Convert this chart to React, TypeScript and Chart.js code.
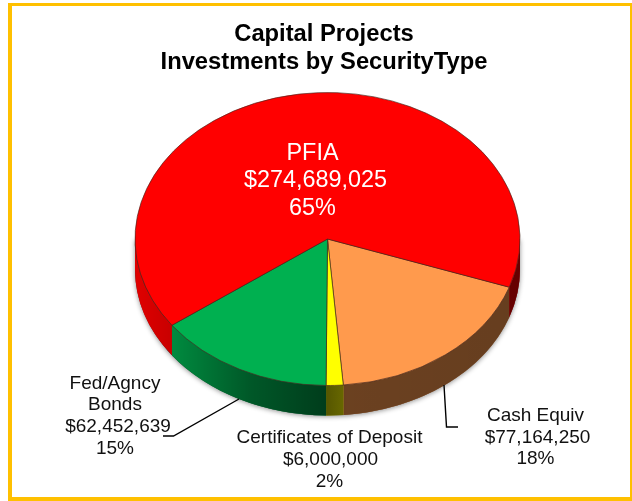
import React, { useEffect, useRef } from "react";
import { Chart, registerables } from "chart.js";

Chart.register(...registerables);

const categories = ["Cash Equiv", "Certificates of Deposit", "Fed/Agncy Bonds", "PFIA"];
const labelLines = [["Cash Equiv"], ["Certificates of Deposit"], ["Fed/Agncy", "Bonds"], ["PFIA"]];
const seriesValues = [77164250, 6000000, 62452639, 274689025];
const percentLabels = ["18%", "2%", "15%", "65%"];
const sliceColors = ["#FF9A4D", "#FFFF00", "#00B050", "#FF0000"];
const titleLines = ["Capital Projects", "Investments by SecurityType"];

const FONT = '"Liberation Sans", Arial, sans-serif';
const FRAME = "#FFC000";
const CX = 327.5;
const CY = 239;
const RX = 192.5;
const RY = 146.5;
const DEPTH = 30;

// per-slice label placement: centre x, first line y, font size, line height, colour, value-line nudge
const labelPlacement = [
  { x: 535.5, y: 415.5, size: 19, lh: 21.8, color: "#111", valueDx: 2 },
  { x: 329.5, y: 437.5, size: 19, lh: 22, color: "#111", valueDx: 1 },
  { x: 115, y: 383.5, size: 19, lh: 21.7, color: "#111", valueDx: 3 },
  { x: 312.5, y: 153.5, size: 23.4, lh: 27.5, color: "#fff", valueDx: 3 },
];

const shapes3d = {
  id: "shapes3d",
  beforeDraw(chart: any) {
    const { ctx, width, height } = chart;
    ctx.save();
    ctx.fillStyle = "#fff";
    ctx.fillRect(0, 0, width, height);
    ctx.fillStyle = FRAME;
    ctx.fillRect(8, 3, width - 8, 3);
    ctx.fillRect(8, 497, width - 8, 4);
    ctx.fillRect(8, 3, 4, height - 3);
    ctx.fillRect(630, 3, 2, height - 3);
    ctx.restore();
  },
  beforeDatasetsDraw(chart: any) {
    const { ctx } = chart;
    const arcs = chart.getDatasetMeta(0).data;
    ctx.save();
    // soft shadow beneath the disc
    ctx.save();
    ctx.shadowColor = "rgba(0,0,0,0.45)";
    ctx.shadowBlur = 5;
    ctx.shadowOffsetY = 1;
    ctx.fillStyle = "#333";
    ctx.beginPath();
    ctx.ellipse(CX, CY + DEPTH, RX, RY, 0, 0, Math.PI);
    ctx.lineTo(CX - RX, CY);
    ctx.lineTo(CX + RX, CY);
    ctx.closePath();
    ctx.fill();
    ctx.restore();

    const shade = ctx.createLinearGradient(CX - RX, 0, CX + RX, 0);
    shade.addColorStop(0, "rgba(0,0,0,0.12)");
    shade.addColorStop(0.1, "rgba(0,0,0,0.22)");
    shade.addColorStop(0.3, "rgba(0,0,0,0.5)");
    shade.addColorStop(0.5, "rgba(0,0,0,0.66)");
    shade.addColorStop(0.55, "rgba(0,0,0,0.58)");
    shade.addColorStop(1, "rgba(0,0,0,0.6)");

    arcs.forEach((arc: any) => {
      for (let k = -1; k <= 1; k++) {
        const a0 = Math.max(arc.startAngle, 2 * Math.PI * k);
        const a1 = Math.min(arc.endAngle, 2 * Math.PI * k + Math.PI);
        if (a1 <= a0) continue;
        ctx.beginPath();
        ctx.ellipse(CX, CY, RX, RY, 0, a0, a1);
        ctx.ellipse(CX, CY + DEPTH, RX, RY, 0, a1, a0, true);
        ctx.closePath();
        ctx.fillStyle = arc.options.backgroundColor;
        ctx.fill();
        ctx.fillStyle = shade;
        ctx.fill();
      }
    });
    ctx.restore();

    // squash the flat disc of arcs into the tilted top face
    const first = arcs[0];
    ctx.save();
    ctx.translate(CX, CY);
    ctx.scale(1, RY / RX);
    ctx.translate(-first.x, -first.y);
  },
  afterDatasetsDraw(chart: any) {
    chart.ctx.restore();
  },
  afterDraw(chart: any) {
    const { ctx } = chart;
    ctx.save();
    ctx.strokeStyle = "#000";
    ctx.lineWidth = 1.4;
    ctx.beginPath();
    ctx.moveTo(163, 436);
    ctx.lineTo(173.5, 436);
    ctx.lineTo(239, 399);
    ctx.moveTo(444, 385);
    ctx.lineTo(446.5, 427);
    ctx.lineTo(458, 427);
    ctx.stroke();

    ctx.textAlign = "center";
    ctx.textBaseline = "middle";
    categories.forEach((_, i) => {
      const p = labelPlacement[i];
      const names = labelLines[i];
      const value = "$" + seriesValues[i].toLocaleString("en-US");
      ctx.font = `${p.size}px ${FONT}`;
      ctx.fillStyle = p.color;
      names.forEach((t, j) => ctx.fillText(t, p.x, p.y + j * p.lh));
      ctx.fillText(value, p.x + p.valueDx, p.y + names.length * p.lh);
      ctx.fillText(percentLabels[i], p.x, p.y + (names.length + 1) * p.lh);
    });
    ctx.restore();
  },
};

export default function App() {
  const ref = useRef<HTMLCanvasElement>(null);
  useEffect(() => {
    const chart = new Chart(ref.current as HTMLCanvasElement, {
      type: "pie",
      data: {
        labels: categories,
        datasets: [
          {
            data: seriesValues,
            backgroundColor: sliceColors,
            borderColor: "rgba(70,40,30,0.75)",
            borderWidth: 1,
            radius: RX,
            clip: false,
          } as any,
        ],
      },
      options: {
        responsive: false,
        animation: false,
        rotation: 109.2,
        layout: { padding: { left: 16, right: 0, top: 0, bottom: 0 } },
        events: [],
        plugins: {
          legend: { display: false },
          tooltip: { enabled: false },
          title: {
            display: true,
            text: titleLines,
            color: "#000",
            font: { family: FONT, size: 23.75, weight: "bold", lineHeight: 1.18 },
            padding: { top: 20, bottom: 4 },
          },
        },
      },
      plugins: [shapes3d],
    });
    return () => chart.destroy();
  }, []);
  return (
    <canvas
      ref={ref}
      width={632}
      height={501}
      style={{ position: "fixed", left: 0, top: 0, width: 632, height: 501 }}
    />
  );
}
